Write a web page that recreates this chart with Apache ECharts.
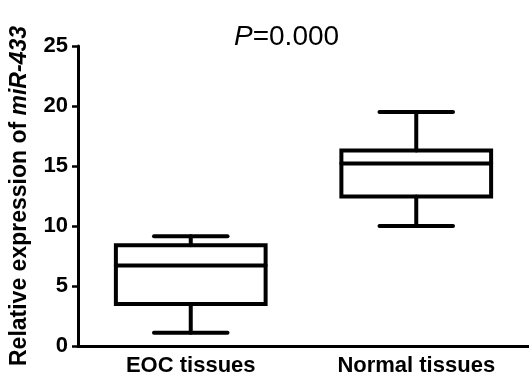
<!DOCTYPE html>
<html>
<head>
<meta charset="utf-8">
<script src="https://cdn.jsdelivr.net/npm/echarts@6/dist/echarts.min.js"></script>
<style>
  html, body { margin: 0; padding: 0; background: #fff; }
  #chart { width: 529px; height: 379px; }
</style>
</head>
<body>
<div id="chart"></div>
<script>
// groups and box statistics
const groups = ['EOC tissues', 'Normal tissues']
const whiskerLow = [1.1, 10.0]
const boxLow = [3.5, 12.45]
const medians = [6.7, 15.2]
const boxHigh = [8.4, 16.3]
const whiskerHigh = [9.15, 19.5]
const yTicks = [0, 5, 10, 15, 20, 25]

const fontFamily = 'Arial, "Liberation Sans", sans-serif'
const chart = echarts.init(document.getElementById('chart'))

const boxData = groups.map((g, i) => [i, whiskerLow[i], boxLow[i], medians[i], boxHigh[i], whiskerHigh[i]])

const renderBox = (params, api) => {
  const idx = api.value(0)
  const band = api.size([1, 0])[0]
  const boxHalf = band * 0.332
  const capHalf = band * 0.163
  const pLow = api.coord([idx, api.value(1)])
  const pQ1 = api.coord([idx, api.value(2)])
  const pMed = api.coord([idx, api.value(3)])
  const pQ3 = api.coord([idx, api.value(4)])
  const pHigh = api.coord([idx, api.value(5)])
  const cx = pLow[0]
  const style = { stroke: '#000', lineWidth: 4, fill: null, lineCap: 'round' }
  const line = (x1, y1, x2, y2) => ({ type: 'line', shape: { x1, y1, x2, y2 }, style })
  return {
    type: 'group',
    children: [
      {
        type: 'rect',
        shape: { x: cx - boxHalf, y: pQ3[1], width: boxHalf * 2, height: pQ1[1] - pQ3[1] },
        style: { stroke: '#000', lineWidth: 4, fill: '#fff' }
      },
      line(cx - boxHalf, pMed[1], cx + boxHalf, pMed[1]),
      line(cx, pQ3[1], cx, pHigh[1]),
      line(cx, pQ1[1], cx, pLow[1]),
      line(cx - capHalf, pHigh[1], cx + capHalf, pHigh[1]),
      line(cx - capHalf, pLow[1], cx + capHalf, pLow[1])
    ]
  }
}

const option = {
  animation: false,
  backgroundColor: '#fff',
  title: {
    text: '{i|P}{n|=0.000}',
    left: 229,
    top: 18,
    textStyle: {
      fontWeight: 'normal',
      rich: {
        i: { fontFamily, fontSize: 28, fontStyle: 'italic', fontWeight: 'normal', color: '#000' },
        n: { fontFamily, fontSize: 28, fontWeight: 'normal', color: '#000' }
      }
    }
  },
  grid: { left: 76, right: 0, top: 46, bottom: 33 },
  xAxis: {
    type: 'category',
    data: groups,
    axisLine: { lineStyle: { color: '#000', width: 3 } },
    axisTick: { alignWithLabel: true, length: 6, lineStyle: { color: '#000', width: 2.5 } },
    axisLabel: { color: '#000', fontFamily, fontSize: 22, fontWeight: 'bold', margin: 9 }
  },
  yAxis: {
    type: 'value',
    min: 0,
    max: 25,
    interval: 5,
    name: '{b|Relative expression of }{bi|miR-433}',
    nameLocation: 'middle',
    nameRotate: 90,
    nameGap: 47,
    nameTextStyle: {
      rich: {
        b: { fontFamily, fontSize: 23, fontWeight: 'bold', color: '#000' },
        bi: { fontFamily, fontSize: 23, fontWeight: 'bold', fontStyle: 'italic', color: '#000' }
      }
    },
    axisLine: { show: true, lineStyle: { color: '#000', width: 3 } },
    axisTick: { show: true, length: 6, lineStyle: { color: '#000', width: 2.5 } },
    axisLabel: {
      color: '#000', fontFamily, fontSize: 22, fontWeight: 'bold', margin: 10,
      formatter: v => (yTicks.includes(v) ? String(v) : '')
    },
    splitLine: { show: false }
  },
  series: [
    {
      type: 'custom',
      renderItem: renderBox,
      data: boxData,
      encode: { x: 0, y: [1, 2, 3, 4, 5] }
    }
  ]
}

chart.setOption(option)
</script>
</body>
</html>
